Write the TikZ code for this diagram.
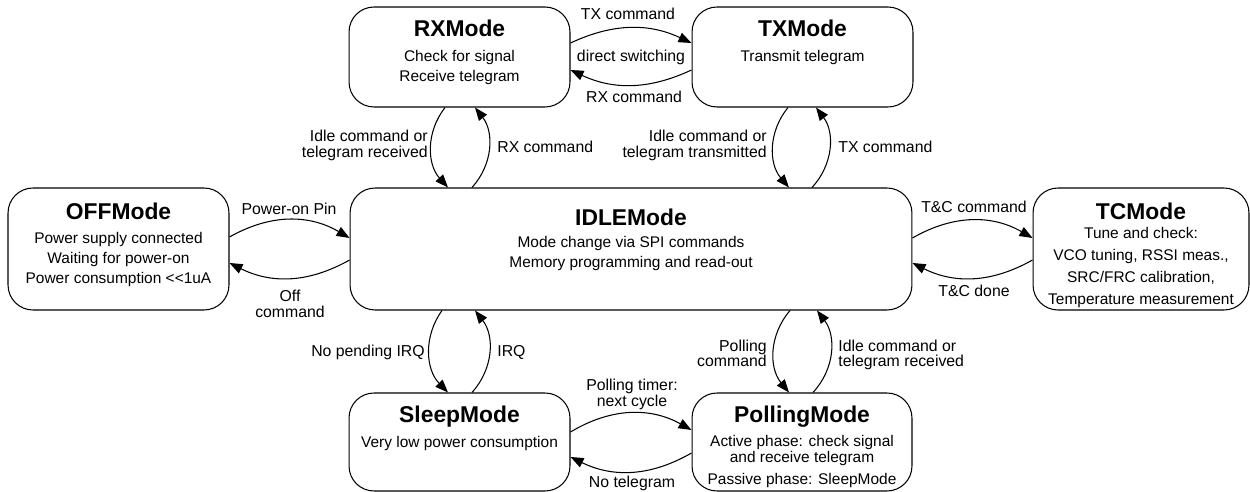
\documentclass[tikz,border=0pt]{standalone}
\usepackage{fontspec}
\setmainfont{Liberation Sans}
\usetikzlibrary{arrows.meta}
\begin{document}
\begin{tikzpicture}[x=0.02cm,y=-0.02cm,
 box/.style={draw, line width=0.6pt, rounded corners=5mm, inner sep=0pt},
 ttl/.style={font=\fontsize{13}{15}\selectfont\bfseries, anchor=base, inner sep=0pt},
 txt/.style={font=\fontsize{8.8}{11}\selectfont, anchor=base, inner sep=0pt},
 lbl/.style={font=\fontsize{9}{11}\selectfont, anchor=base, inner sep=0pt},
 arr/.style={line width=0.6pt, -{Triangle[length=2.6mm,width=2mm]}},
]
\useasboundingbox (0,0) rectangle (1250,492);

% boxes
\node[box, minimum width=44.2mm, minimum height=20mm] (rx) at (459.5,57) {};
\node[box, minimum width=44.2mm, minimum height=20mm] (tx) at (802.5,57) {};
\node[box, minimum width=112.4mm, minimum height=24.4mm] (idle) at (631,249) {};
\node[box, minimum width=44.2mm, minimum height=24.4mm] (off) at (118.5,249) {};
\node[box, minimum width=43.2mm, minimum height=24.4mm] (tc) at (1141,249) {};
\node[box, minimum width=44.2mm, minimum height=19.6mm] (sleep) at (459.5,442) {};
\node[box, minimum width=44mm, minimum height=19.6mm] (poll) at (802,442) {};

% box texts
\node[ttl] (rxT) at (459.5,37) {RXMode};
\node[txt] (rxL1) at (459.5,62) {Check for signal};
\node[txt] (rxL2) at (459.5,82) {Receive telegram};

\node[ttl] (txT) at (802.5,37) {TXMode};
\node[txt] (txL1) at (802.5,62) {Transmit telegram};

\node[ttl] (idleT) at (631,226) {IDLEMode};
\node[txt] (idleL1) at (631,248) {Mode change via SPI commands};
\node[txt] (idleL2) at (631,268) {Memory programming and read-out};

\node[ttl] (offT) at (118.5,220) {OFFMode};
\node[txt] (offL1) at (118.5,244) {Power supply connected};
\node[txt] (offL2) at (118.5,264) {Waiting for power-on};
\node[txt] (offL3) at (118.5,284) {Power consumption <{}<1uA};

\node[ttl] (tcT) at (1141,220) {TCMode};
\node[txt] (tcL1) at (1141,239) {Tune and check:};
\node[txt] (tcL2) at (1141,261) {VCO tuning, RSSI meas.,};
\node[txt] (tcL3) at (1141,283) {SRC/FRC calibration,};
\node[txt] (tcL4) at (1141,305) {Temperature measurement};

\node[ttl] (sleepT) at (459.5,423) {SleepMode};
\node[txt] (sleepL1) at (459.5,448) {Very low power consumption};

\node[ttl] (pollT) at (802,423) {PollingMode};
\node[txt] (pollL1) at (802,447) {Active phase: check signal};
\node[txt] (pollL2) at (802,463) {and receive telegram};
\node[txt] (pollL3) at (802,485) {Passive phase: SleepMode};

% RX <-> TX
\draw[arr] ([yshift=2.8mm]rx.east) to[bend left=25] ([yshift=2.8mm]tx.west);
\draw[arr] ([yshift=-2.6mm]tx.west) to[bend left=25] ([yshift=-2.6mm]rx.east);

% RX <-> IDLE
\coordinate (rxs1) at ([xshift=-2.3mm]rx.south);
\coordinate (rxs2) at ([xshift=2.5mm]rx.south);
\draw[arr] ([xshift=-2.9mm]rx.south) to[bend right=40] (rxs1 |- idle.north);
\draw[arr] (rxs2 |- idle.north) to[bend right=40] ([xshift=3.1mm]rx.south);

% TX <-> IDLE
\coordinate (txs1) at ([xshift=-2.7mm]tx.south);
\coordinate (txs2) at ([xshift=1.9mm]tx.south);
\draw[arr] ([xshift=-2.9mm]tx.south) to[bend right=40] (txs1 |- idle.north);
\draw[arr] (txs2 |- idle.north) to[bend right=40] ([xshift=2.7mm]tx.south);

% IDLE <-> Sleep
\coordinate (sl1) at ([xshift=-3.5mm]sleep.north);
\coordinate (sl2) at ([xshift=3.1mm]sleep.north);
\draw[arr] (sl1 |- idle.south) to[bend right=40] ([xshift=-2.3mm]sleep.north);
\draw[arr] ([xshift=2.5mm]sleep.north) to[bend right=40] (sl2 |- idle.south);

% IDLE <-> Polling
\coordinate (pl1) at ([xshift=-2.4mm]poll.north);
\coordinate (pl2) at ([xshift=3mm]poll.north);
\draw[arr] (pl1 |- idle.south) to[bend right=40] ([xshift=-2.6mm]poll.north);
\draw[arr] ([xshift=2.2mm]poll.north) to[bend right=40] (pl2 |- idle.south);

% OFF <-> IDLE
\draw[arr] ([yshift=2.4mm]off.east) to[bend left=30] ([yshift=2.2mm]idle.west);
\draw[arr] ([yshift=-2.2mm]idle.west) to[bend left=28] ([yshift=-2.8mm]off.east);

% IDLE <-> TC
\draw[arr] ([yshift=2.2mm]idle.east) to[bend left=30] ([yshift=2.2mm]tc.west);
\draw[arr] ([yshift=-2.2mm]tc.west) to[bend left=28] ([yshift=-2.8mm]idle.east);

% Sleep <-> Polling
\draw[arr] ([yshift=2mm]sleep.east) to[bend left=30] ([yshift=2.4mm]poll.west);
\draw[arr] ([yshift=-2.2mm]poll.west) to[bend left=28] ([yshift=-3mm]sleep.east);

% labels
\node[lbl] (l1) at (628,20) {TX command};
\node[lbl] (l2) at (631,62) {direct switching};
\node[lbl] (l3) at (634,103) {RX command};
\node[lbl, anchor=base east] (l4a) at (428,142) {Idle command or};
\node[lbl, anchor=base east] (l4b) at (428,158) {telegram received};
\node[lbl, anchor=base west] (l5) at (497,153) {RX command};
\node[lbl, anchor=base east] (l6a) at (767,142) {Idle command or};
\node[lbl, anchor=base east] (l6b) at (767,158) {telegram transmitted};
\node[lbl, anchor=base west] (l7) at (838,153) {TX command};
\node[lbl] (l8) at (289,215) {Power-on Pin};
\node[lbl] (l9a) at (290,302) {Off};
\node[lbl] (l9b) at (290,318) {command};
\node[lbl] (l10) at (974,213) {T\&C command};
\node[lbl] (l11) at (974,297) {T\&C done};
\node[lbl, anchor=base east] (l12) at (425,357) {No pending IRQ};
\node[lbl, anchor=base west] (l13) at (497,357) {IRQ};
\node[lbl, anchor=base east] (l14a) at (767,352) {Polling};
\node[lbl, anchor=base east] (l14b) at (767,367) {command};
\node[lbl, anchor=base west] (l15a) at (838,352) {Idle command or};
\node[lbl, anchor=base west] (l15b) at (838,367) {telegram received};
\node[lbl] (l16a) at (632,391) {Polling timer:};
\node[lbl] (l16b) at (632,407) {next cycle};
\node[lbl] (l17) at (632,488) {No telegram};
\end{tikzpicture}
\end{document}
